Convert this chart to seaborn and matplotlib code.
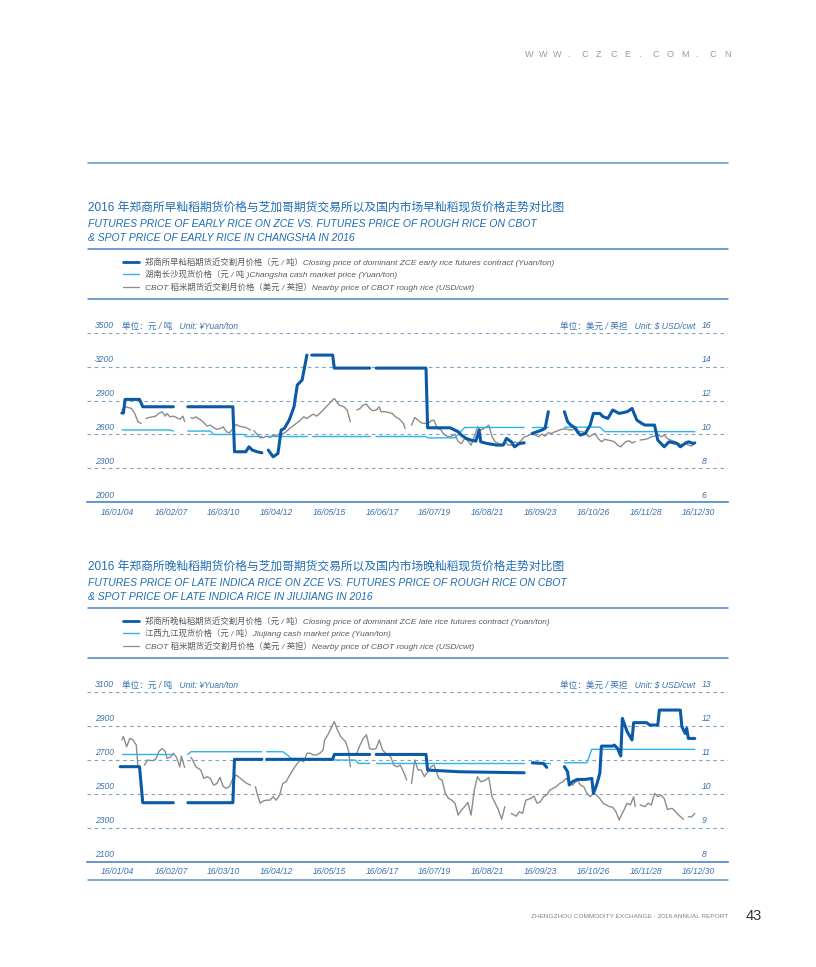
import numpy as np
import pandas as pd
import matplotlib
matplotlib.use("Agg")
import matplotlib.pyplot as plt
import matplotlib.transforms as mtransforms
from matplotlib.lines import Line2D
import seaborn as sns

sns.set_theme(style="white")
plt.rcParams['font.family'] = ['Liberation Sans', 'Noto Sans CJK SC', 'DejaVu Sans']

NaN = np.nan
BASE = pd.Timestamp("2016-01-04")

tick_labels = ["16/01/04", "16/02/07", "16/03/10", "16/04/12", "16/05/15", "16/06/17",
               "16/07/19", "16/08/21", "16/09/23", "16/10/26", "16/11/28", "16/12/30"]

# ---------------- Chart 1 : early rice ----------------
yuan1_ticks = [2000, 2300, 2600, 2900, 3200, 3500]
usd1_ticks = [6, 8, 10, 12, 14, 16]

zce1_day = [3, 4, 5, 14, 16, 35, 40, 44, 72, 73, 80, 82, 84, 87, 90, 92, 94, 97, 100, 102,
            104, 107, 110, 112, 115, 118, 119, 121, 134, 135, 157, 159, 161, 192, 193, 207,
            209, 212, 214, 217, 220, 223, 225, 226, 230, 236, 240, 242, 245, 247, 250, 253,
            255, 258, 261, 264, 266, 268, 272, 278, 280, 282, 285, 286, 288, 291, 294, 296,
            300, 302, 305, 308, 312, 317, 320, 323, 326, 328, 334, 336, 340, 343, 348, 350,
            353, 355, 358, 359]
zce1_val = [2790, 2790, 2910, 2910, 2845, 2845, NaN, 2845, 2845, 2447, 2447, 2491, 2462, 2447,
            2438, NaN, 2462, 2402, 2432, 2639, 2654, 2727, 2845, 3037, 3081, 3302, NaN, 3302,
            3302, 3187, 3187, NaN, 3187, 3187, 2659, 2659, 2645, 2624, 2594, 2565, 2550, 2541,
            2639, 2535, 2520, 2506, 2506, 2565, 2535, 2491, 2520, 2526, NaN, 2609, 2624, 2639,
            2654, 2801, NaN, 2801, 2712, 2683, 2654, 2624, 2594, 2609, 2683, 2786, 2786, 2757,
            2742, 2816, 2786, 2801, 2830, 2727, 2698, 2683, 2683, 2550, 2491, 2535, 2520, 2491,
            2520, 2535, 2520, 2526]

cs1_day = [3, 33, 35, 40, 44, 58, 60, 79, 80, 90, 92, 94, 118, 119, 121, 157, 159, 161, 192,
           193, 210, 216, 253, 255, 258, 268, 272, 278, 300, 303, 359]
cs1_val = [2640, 2640, 2630, NaN, 2630, 2630, 2600, 2600, 2582, 2582, NaN, 2582, 2582, NaN,
           2582, 2582, NaN, 2582, 2582, 2570, 2570, 2662, 2662, NaN, 2662, 2662, NaN, 2665,
           2665, 2625, 2625]

cbot1_day = [3, 5, 7, 9, 11, 13, 15, 17, 18, 20, 24, 26, 28, 30, 31, 33, 35, 37, 39, 41, 42,
             44, 46, 47, 49, 52, 54, 56, 58, 60, 62, 64, 66, 68, 70, 72, 74, 76, 78, 80, 83,
             84, 85, 87, 89, 91, 93, 95, 97, 99, 101, 103, 105, 108, 110, 112, 114, 116, 118,
             120, 122, 124, 126, 128, 130, 132, 134, 135, 136, 138, 141, 143, 145, 147, 149,
             151, 153, 155, 157, 159, 161, 163, 164, 167, 171, 173, 175, 176, 178, 179, 181,
             183, 185, 187, 189, 191, 194, 195, 197, 199, 201, 203, 205, 207, 209, 210, 212,
             214, 216, 218, 220, 222, 224, 226, 229, 231, 233, 235, 237, 239, 241, 243, 245,
             247, 249, 251, 253, 255, 257, 260, 262, 264, 266, 268, 270, 272, 274, 276, 278,
             280, 282, 284, 286, 289, 291, 293, 295, 297, 299, 301, 303, 305, 307, 309, 311,
             313, 316, 318, 320, 322, 323, 325, 328, 330, 332, 334, 336, 338, 340, 342, 344,
             347, 349, 351, 352, 353, 355, 357, 359]
cbot1_val = [11.44, 11.63, 11.59, 11.53, 11.24, 10.75, 10.65, NaN, 10.94, 11.00, 11.08, 11.24,
             11.34, 11.08, 11.24, 11.04, 11.08, 11.00, 10.89, 11.08, 10.75, NaN, 11.00, 10.94,
             11.04, 10.85, 10.69, 10.49, 10.55, 10.41, 10.30, 10.35, 10.45, 10.16, 10.10, 10.35,
             10.59, 10.49, 10.45, 10.41, 10.26, NaN, 10.22, 10.02, 9.80, 9.82, 9.90, 9.82, 9.96,
             9.90, 10.06, 10.02, 10.16, 10.41, 10.55, 10.69, 10.85, 11.04, 10.94, 11.08, 11.20,
             11.08, 11.24, 11.44, 11.63, 11.83, 12.03, 12.12, 11.99, 11.73, 11.63, 11.44, 10.75,
             NaN, 11.44, 11.53, 11.73, 11.79, 11.53, 11.40, 11.44, 11.63, 11.34, 11.34, 11.24,
             11.04, 10.94, 10.85, 10.65, 10.35, NaN, 10.55, 11.00, 10.85, 10.69, 10.65, 10.69,
             10.81, 10.85, 10.35, 10.30, 10.02, 9.90, 9.86, 9.96, 10.02, 9.57, 9.47, 9.76, 9.63,
             9.37, 9.86, 10.45, 10.26, 10.41, 10.55, 9.86, 9.57, 9.47, 9.37, 9.57, 9.37, 9.37,
             9.57, 9.47, 9.63, 9.86, 9.90, 10.02, 9.96, 9.86, 10.02, 9.90, 10.10, 10.06, 10.16,
             10.22, 10.30, 10.33, 10.30, 10.26, 10.30, 10.22, 10.16, 10.10, 9.86, 9.96, 10.06,
             9.76, 9.57, 9.71, 9.67, 9.63, 9.57, 9.37, 9.27, 9.57, 9.63, 9.51, 9.57, NaN, 9.67,
             9.71, 9.76, 9.86, 9.90, 10.02, 9.86, 9.96, 9.76, 9.67, 9.57, 9.47, 9.37, NaN, 9.57,
             9.37, 9.31, 9.47]

# ---------------- Chart 2 : late indica rice ----------------
yuan2_ticks = [2100, 2300, 2500, 2700, 2900, 3100]
usd2_ticks = [8, 9, 10, 11, 12, 13]

zce2_day = [2, 14, 16, 35, 40, 44, 72, 73, 90, 92, 93, 134, 135, 157, 159, 161, 192, 193, 213,
            253, 255, 258, 265, 267, 272, 278, 280, 281, 283, 286, 291, 295, 296, 298, 300,
            301, 308, 309, 311, 313, 314, 317, 320, 321, 329, 331, 336, 337, 350, 351, 353,
            354, 355, 359]
zce2_val = [2659, 2659, 2447, 2447, NaN, 2447, 2447, 2702, 2702, NaN, 2702, 2702, 2731, 2731,
            NaN, 2731, 2731, 2639, 2629, 2623, NaN, 2682, 2678, 2655, NaN, 2659, 2629, 2551,
            2571, 2584, 2584, 2590, 2502, 2551, 2620, 2780, 2780, 2786, 2767, 2722, 2943, 2865,
            2816, 2918, 2918, 2904, 2904, 2992, 2992, 2894, 2855, 2884, 2825, 2825]

jj2_day = [3, 35, 40, 44, 46, 90, 92, 93, 103, 106, 108, 134, 135, 148, 150, 157, 159, 161,
           253, 255, 258, 269, 272, 278, 292, 295, 359]
jj2_val = [2731, 2731, NaN, 2731, 2747, 2747, NaN, 2747, 2747, 2727, 2708, 2704, 2698, 2698,
           2678, 2678, NaN, 2682, 2682, NaN, 2682, 2682, NaN, 2682, 2682, 2761, 2761]

cbot2_day = [3, 4, 6, 8, 10, 12, 13, 16, 17, 19, 22, 24, 26, 28, 30, 31, 33, 35, 37, 39, 40,
             42, 44, 46, 47, 49, 52, 54, 56, 58, 60, 62, 64, 66, 68, 70, 72, 74, 76, 78, 80,
             83, 84, 86, 87, 89, 91, 93, 95, 97, 99, 101, 103, 105, 108, 110, 112, 114, 116,
             118, 120, 122, 124, 126, 128, 129, 131, 133, 135, 137, 139, 142, 144, 145, 147,
             149, 151, 153, 155, 157, 159, 161, 163, 165, 167, 170, 172, 174, 176, 178, 180,
             182, 183, 185, 187, 189, 191, 194, 195, 197, 200, 202, 204, 206, 208, 210, 212,
             214, 216, 218, 220, 222, 224, 226, 229, 231, 233, 235, 237, 239, 241, 243, 245,
             248, 250, 252, 254, 257, 259, 261, 263, 265, 267, 269, 271, 273, 275, 277, 279,
             281, 283, 286, 288, 290, 292, 294, 296, 298, 300, 302, 304, 306, 308, 310, 312,
             315, 317, 319, 321, 322, 323, 325, 328, 330, 332, 334, 336, 338, 340, 342, 345,
             347, 349, 352, 353, 355, 357, 359]
cbot2_val = [11.58, 11.68, 11.38, 11.63, 11.58, 11.43, 10.79, NaN, 10.84, 10.99, 10.97, 11.01,
             11.24, 11.33, 11.24, 11.04, 11.07, 11.19, 11.07, 10.79, 11.11, 10.77, NaN, 11.07,
             10.99, 10.79, 10.70, 10.45, 10.50, 10.45, 10.25, 10.30, 10.48, 10.21, 10.16, 10.21,
             10.45, 10.55, 10.48, 10.40, 10.32, 10.25, NaN, 10.21, 10.01, 9.72, 9.79, 9.81, 9.81,
             9.91, 9.81, 9.96, 10.30, 10.35, 10.60, 10.75, 10.89, 10.99, 10.94, 11.19, 11.19,
             11.14, 11.14, 11.19, 11.28, 11.58, 11.73, 11.92, 12.12, 11.87, 11.68, 11.53, 11.24,
             10.79, NaN, 11.19, 11.43, 11.63, 11.73, 11.33, 11.30, 11.33, 11.58, 11.28, 11.19,
             11.09, 10.84, 10.79, 10.84, 10.65, 10.40, NaN, 10.30, 10.99, 10.70, 10.70, 10.50,
             10.70, 10.79, 10.84, 10.45, 10.40, 10.01, 9.86, 9.81, 9.72, 9.37, 9.52, 9.62, 9.74,
             9.37, 10.11, 10.50, 10.35, 10.40, 10.48, 9.91, 9.72, 9.52, 9.25, 9.62, NaN, 9.42,
             9.34, 9.47, 9.42, 9.81, 9.86, 9.93, 9.72, 9.76, 9.91, 9.96, 10.11, 10.16, 10.21,
             10.30, 10.35, 10.45, 10.35, 10.25, 10.40, 10.25, 10.21, 10.01, 9.91, 10.01, 9.96,
             9.86, 9.72, 9.67, 9.62, 9.60, 9.47, 9.23, 9.52, 9.72, 9.67, 9.91, 9.62, NaN, 9.67,
             9.62, 9.72, 9.67, 10.01, 9.91, 9.96, 9.86, 9.54, 9.57, 9.47, 9.37, 9.25, NaN, 9.32,
             9.32, 9.42]

# ---------------- texts ----------------
titles1 = ["2016 年郑商所早籼稻期货价格与芝加哥期货交易所以及国内市场早籼稻现货价格走势对比图",
           "FUTURES PRICE OF EARLY RICE ON ZCE VS. FUTURES PRICE OF ROUGH RICE ON CBOT",
           "& SPOT PRICE OF EARLY RICE IN CHANGSHA IN 2016"]
legend1 = ["郑商所早籼稻期货近交割月价格（元 / 吨）Closing price of dominant ZCE early rice futures contract (Yuan/ton)",
           "湖南长沙现货价格（元 / 吨 )Changsha cash market price (Yuan/ton)",
           "CBOT 稻米期货近交割月价格（美元 / 英担）Nearby price of CBOT rough rice (USD/cwt)"]
titles2 = ["2016 年郑商所晚籼稻期货价格与芝加哥期货交易所以及国内市场晚籼稻现货价格走势对比图",
           "FUTURES PRICE OF LATE INDICA RICE ON ZCE VS. FUTURES PRICE OF ROUGH RICE ON CBOT",
           "& SPOT PRICE OF LATE INDICA RICE IN JIUJIANG IN 2016"]
legend2 = ["郑商所晚籼稻期货近交割月价格（元 / 吨）Closing price of dominant ZCE late rice futures contract (Yuan/ton)",
           "江西九江现货价格（元 / 吨）Jiujiang cash market price (Yuan/ton)",
           "CBOT 稻米期货近交割月价格（美元 / 英担）Nearby price of CBOT rough rice (USD/cwt)"]
unit_left = "单位：元 / 吨   Unit: ¥Yuan/ton"
unit_right = "单位：美元 / 英担   Unit: $ USD/cwt"

# ---------------- styling ----------------
C_DARK = "#0b5aa8"
C_LIGHT = "#2db3ea"
C_GRAY = "#8c8c8c"
C_TITLE = "#1f6cb4"
C_TICK = "#3b73b0"
C_GRID = "#7ba3c8"
C_RULE = "#4a86c3"

W, H = 816, 967
fig = plt.figure(figsize=(W / 100, H / 100), dpi=100)
fig.patch.set_facecolor("white")


def fx(x):
    return x / W


def fy(y):
    return 1 - y / H


def rule(y, color=C_RULE, lw=1.1):
    fig.add_artist(Line2D([fx(88), fx(728)], [fy(y), fy(y)], color=color, lw=lw,
                          transform=fig.transFigure))


def make_df(days, vals):
    df = pd.DataFrame({"day": days, "val": vals})
    df["seg"] = df["val"].isna().cumsum()
    df = df.dropna().copy()
    df["date"] = BASE + pd.to_timedelta(df["day"], unit="D")
    return df


tick_dates = [pd.to_datetime(t, format="%y/%m/%d") for t in tick_labels]
px_per_day = (698 - 117) / 361.0
xmin = BASE - pd.Timedelta(days=(117 - 87) / px_per_day)
xmax = BASE + pd.Timedelta(days=361 + (728 - 698) / px_per_day)

TICK_FS = 6.2


def draw_block(off, titles, legend, ytop, ybot, yuan_ticks, usd_ticks,
               zce, cash, cbot, bottom_rule):
    # titles
    fig.text(fx(88), fy(210.5 + off), titles[0], fontsize=8.5, color=C_TITLE,
             ha="left", va="baseline")
    fig.text(fx(88), fy(227 + off), titles[1], fontsize=7.45, color=C_TITLE,
             style="italic", ha="left", va="baseline")
    fig.text(fx(88), fy(241 + off), titles[2], fontsize=7.45, color=C_TITLE,
             style="italic", ha="left", va="baseline")
    rule(249.3 + off)
    # legend
    for yc, txt, col, lw in zip([261.7, 274.3, 287.3], legend,
                                [C_DARK, C_LIGHT, C_GRAY], [2.0, 1.0, 0.9]):
        fig.add_artist(Line2D([fx(123), fx(139)], [fy(yc + off)] * 2, color=col, lw=lw,
                              transform=fig.transFigure))
        fig.text(fx(145), fy(yc + off + 3.0), txt, fontsize=6.0, color="#5a5a5a",
                 style="italic", ha="left", va="baseline")
    rule(298.5 + off)

    # axes
    rect = [fx(87), fy(ybot), (728 - 87) / W, (ybot - ytop) / H]
    ax = fig.add_axes(rect)
    ax2 = ax.twinx()
    for a in (ax, ax2):
        a.set_facecolor("none")
        for s in a.spines.values():
            s.set_visible(False)
    ax.spines["bottom"].set_visible(True)
    ax.spines["bottom"].set_color(C_RULE)
    ax.spines["bottom"].set_linewidth(1.2)

    # CBOT on the USD axis (drawn beneath)
    d = make_df(*cbot)
    sns.lineplot(data=d, x="date", y="val", units="seg", estimator=None, sort=False,
                 color=C_GRAY, lw=1.0, ax=ax)
    d = make_df(*cash)
    sns.lineplot(data=d, x="date", y="val", units="seg", estimator=None, sort=False,
                 color=C_LIGHT, lw=1.0, ax=ax2)
    d = make_df(*zce)
    sns.lineplot(data=d, x="date", y="val", units="seg", estimator=None, sort=False,
                 color=C_DARK, lw=2.2, ax=ax2)

    ax.set_ylim(usd_ticks[0], usd_ticks[-1])
    ax2.set_ylim(yuan_ticks[0], yuan_ticks[-1])
    ax.set_yticks(usd_ticks)
    ax2.set_yticks(yuan_ticks)
    ax.yaxis.grid(True, linestyle=(0, (3.2, 3.2)), color=C_GRID, lw=0.8)
    ax.xaxis.grid(False)
    ax2.grid(False)
    ax.set_axisbelow(True)
    ax.tick_params(axis="y", length=0, labelleft=False, labelright=False)
    ax2.tick_params(axis="y", length=0, labelleft=False, labelright=False)
    ax.set_xlim(xmin, xmax)
    ax.set_xticks(tick_dates)
    ax.set_xticklabels(tick_labels, fontsize=TICK_FS, style="italic", color=C_TICK)
    ax.tick_params(axis="x", length=0, pad=4)
    for a in (ax, ax2):
        a.set_xlabel("")
        a.set_ylabel("")
        leg = a.get_legend()
        if leg:
            leg.remove()

    shift = mtransforms.ScaledTranslation(0, 4.3 / 100, fig.dpi_scale_trans)
    tl = mtransforms.blended_transform_factory(ax2.transAxes, ax2.transData) + shift
    tr = mtransforms.blended_transform_factory(ax.transAxes, ax.transData) + shift
    for v in yuan_ticks:
        ax2.text((95 - 87) / 641, v, f"{v}", transform=tl, fontsize=TICK_FS, color=C_TICK,
                 style="italic", ha="left", va="baseline")
    for v in usd_ticks:
        ax.text((702 - 87) / 641, v, f"{v}", transform=tr, fontsize=TICK_FS, color=C_TICK,
                style="italic", ha="left", va="baseline")
    ax2.text((122 - 87) / 641, yuan_ticks[-1], unit_left, transform=tl, fontsize=TICK_FS,
             color=C_TICK, style="italic", ha="left", va="baseline")
    ax.text((695 - 87) / 641, usd_ticks[-1], unit_right, transform=tr, fontsize=TICK_FS,
            color=C_TICK, style="italic", ha="right", va="baseline")
    if bottom_rule:
        rule(880, color="#5a90c8", lw=1.1)


# header
rule(162.7, color="#6a9dcc", lw=1.2)
hdr = "WWW.CZCE.COM.CN"
for i, ch in enumerate(hdr):
    fig.text(fx(525 + i * 14.2), fy(57), ch, fontsize=6.6, color="#9a9a9a",
             ha="left", va="baseline")

draw_block(0, titles1, legend1, 332.7, 502.3, yuan1_ticks, usd1_ticks,
           (zce1_day, zce1_val), (cs1_day, cs1_val), (cbot1_day, cbot1_val), False)
draw_block(359, titles2, legend2, 691.7, 861.7, yuan2_ticks, usd2_ticks,
           (zce2_day, zce2_val), (jj2_day, jj2_val), (cbot2_day, cbot2_val), True)

# footer
fig.text(fx(728), fy(918.5), "ZHENGZHOU COMMODITY EXCHANGE · 2016 ANNUAL REPORT",
         fontsize=4.65, color="#808080", ha="right", va="baseline")
fig.text(fx(746), fy(920.5), "43", fontsize=10.5, color="#333333", ha="left", va="baseline")

fig.savefig("out.png", dpi=100, facecolor="white")
